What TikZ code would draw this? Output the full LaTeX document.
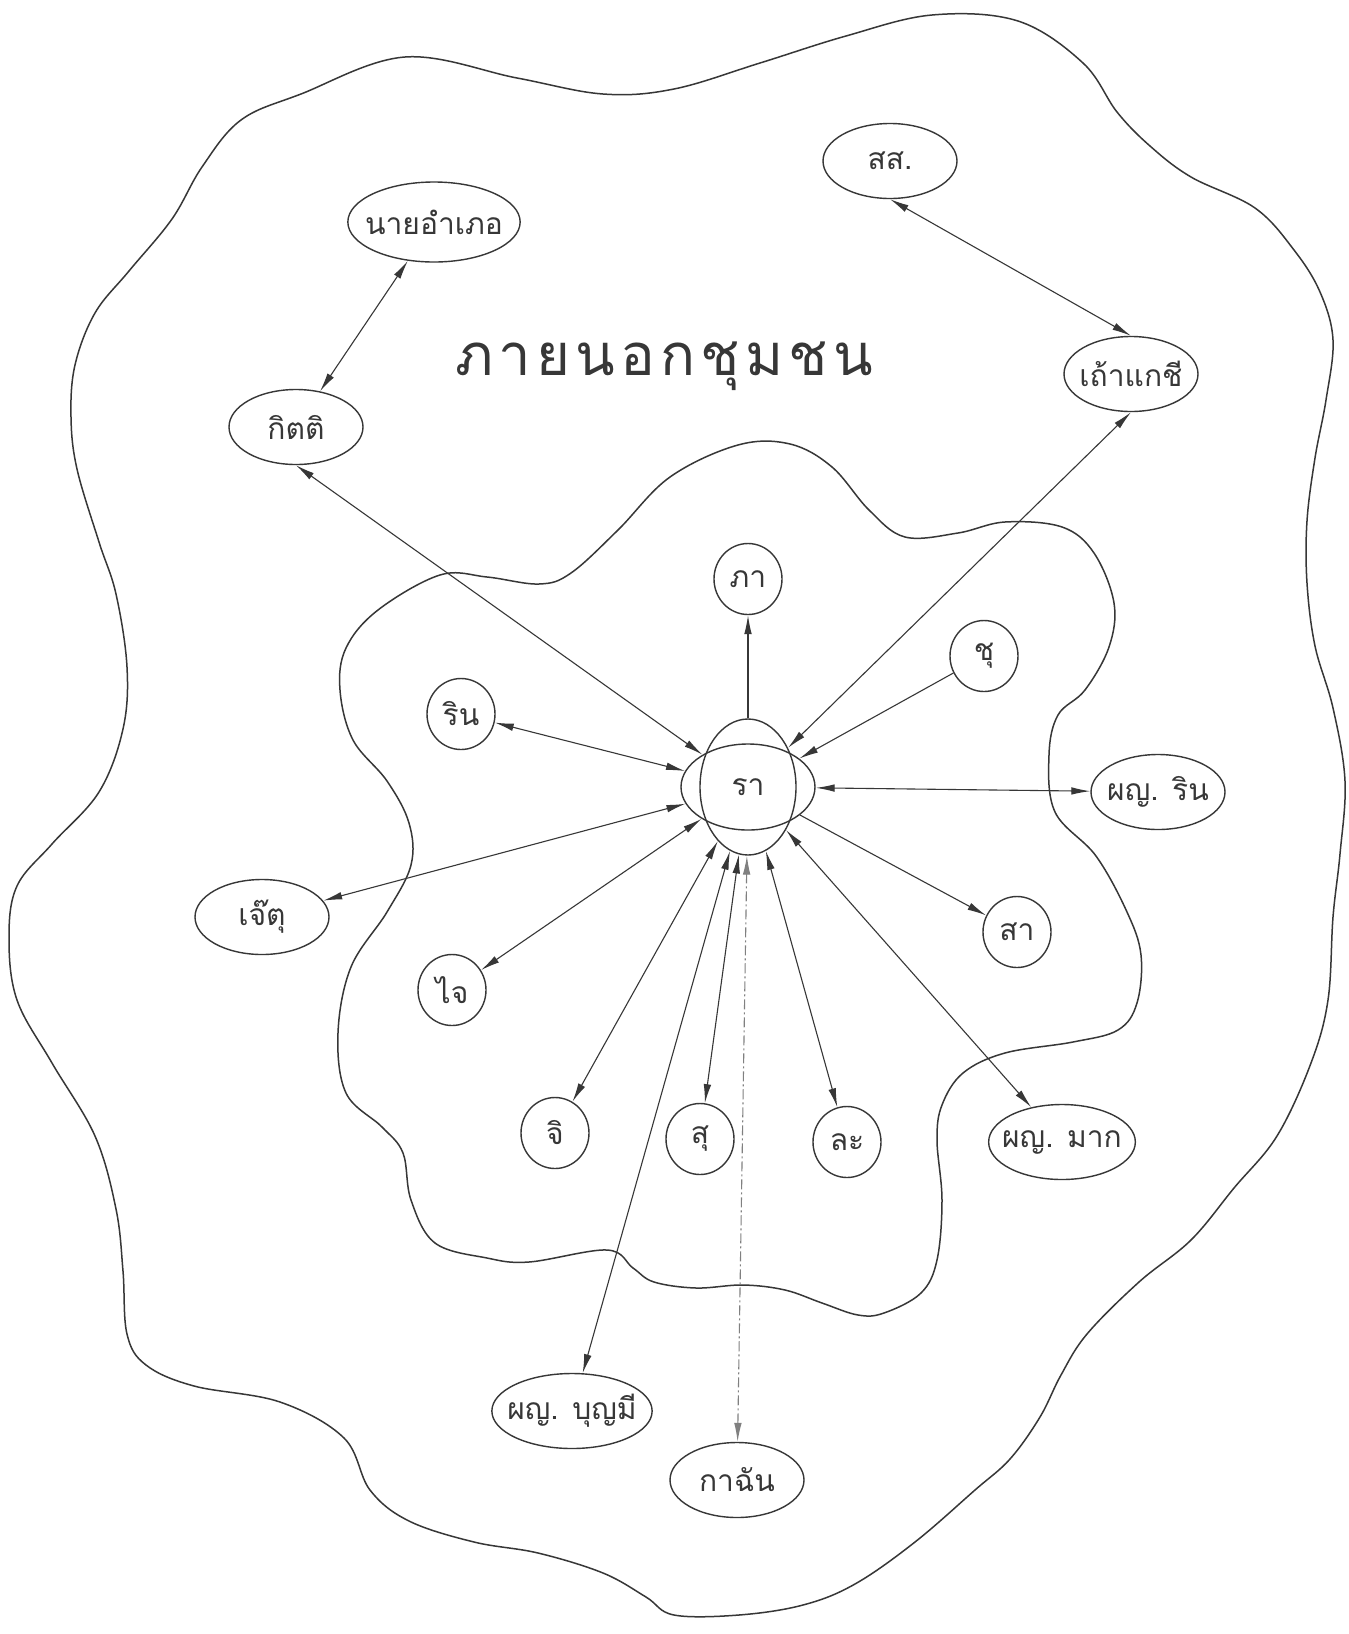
\documentclass[tikz,border=0pt]{standalone}
\usepackage{fontspec}
\newfontfamily\thaifont[Script=Thai]{Loma}
\newfontfamily\thaihand[Script=Thai,LetterSpace=9]{Loma}
\usetikzlibrary{shapes.geometric,arrows.meta}
\definecolor{pencil}{RGB}{55,55,55}

\begin{document}
\begin{tikzpicture}[x=0.5pt, y=-0.5pt, >={Latex[length=9.5pt,width=3.8pt]},
  lnk/.style={pencil, line width=0.55pt},
  blob/.style={pencil, line width=0.75pt},
  oval/.style={draw=pencil, ellipse, line width=0.7pt, inner xsep=-4pt, inner ysep=0pt,
    minimum width=67pt, minimum height=37.5pt, text=pencil, font=\thaifont\fontsize{15}{15}\selectfont},
  ring/.style={oval, minimum width=34pt, minimum height=35.5pt}]
  \fill[white] (0,0) rectangle (1349,1634);
  \useasboundingbox (0,0) rectangle (1349,1634);

  % outside the community
  \draw[blob] plot[smooth cycle, tension=0.6] coordinates {
    (405,57) (517,78) (603,94) (674,89) (760,63) (846,36) (932,15) (1018,21)
    (1083,63) (1117,112) (1150,146) (1191,177) (1255,208) (1294,250) (1320,292)
    (1333,340) (1326,400) (1315,458) (1307,521) (1307,583) (1315,646) (1333,708)
    (1345,781) (1340,854) (1333,917) (1328,1000) (1311,1063) (1277,1136)
    (1234,1188) (1191,1240) (1139,1282) (1087,1334) (1061,1375) (1040,1417)
    (1010,1459) (975,1490) (915,1542) (855,1584) (803,1605) (739,1615) (674,1615)
    (646,1597) (603,1573) (538,1553) (474,1542) (409,1521) (370,1490) (344,1438)
    (280,1402) (194,1386) (146,1365) (127,1334) (123,1271) (116,1209) (95,1136)
    (52,1063) (17,1000) (9,938) (17,886) (52,844) (99,792) (123,729) (127,667)
    (116,594) (99,542) (77,469) (71,417) (75,365) (95,313) (129,271) (172,219)
    (202,167) (241,120) (301,94)};
  % the community
  \draw[blob] plot[smooth cycle, tension=0.6] coordinates {
    (340,690) (346,648) (378,610) (440,575) (487,577) (539,584) (571,573)
    (618,530) (670,477) (738,445) (790,444) (832,467) (869,510) (905,537)
    (958,533) (1005,522) (1062,527) (1094,553) (1114,603) (1109,647) (1085,690)
    (1058,715) (1049,755) (1055,812) (1096,856) (1127,912) (1141,955) (1137,1003)
    (1118,1030) (1073,1042) (1005,1053) (963,1073) (942,1105) (937,1140)
    (942,1200) (937,1260) (921,1293) (884,1313) (858,1315) (822,1303) (785,1290)
    (743,1285) (696,1288) (654,1282) (633,1268) (607,1250) (529,1262) (487,1258)
    (435,1243) (411,1200) (403,1153) (382,1127) (346,1093) (338,1033) (351,967)
    (387,912) (411,865) (409,823) (387,781) (353,740)};

  \node[text=pencil, font=\thaihand\fontsize{29}{29}\selectfont] (outside) at (664,366) {ภายนอกชุมชน};

  \node[oval] (ss) at (890,161) {สส.};
  \node[oval, minimum height=40pt] (amphoe) at (434,222) {นายอำเภอ};
  \node[oval] (kitti) at (296,427) {กิตติ};
  \node[oval] (taokae) at (1131,374) {เถ้าแกชี};
  \node[ring] (pha) at (748,579) {ภา};
  \node[ring] (chu) at (984,656) {ชุ};
  \node[ring] (rin) at (461,714) {ริน};
  \node[oval] (prin) at (1158,792) {ผญ. ริน};
  \node[oval] (jetu) at (262,917) {เจ๊ตุ};
  \node[ring] (sa) at (1017,932) {สา};
  \node[ring] (jai) at (452,990) {ไจ};
  \node[ring] (ji) at (555,1133) {จิ};
  \node[ring] (su) at (700,1139) {สุ};
  \node[ring] (la) at (847,1142) {ละ};
  \node[oval] (pmak) at (1062,1142) {ผญ. มาก};
  \node[oval] (pboon) at (572,1411) {ผญ. บุญมี};
  \node[oval] (kachan) at (737,1480) {กาฉัน};

  \node[oval, minimum width=67pt, minimum height=43pt] (raH) at (748,787) {};
  \node[oval, minimum width=48pt, minimum height=68pt] (raV) at (748,787) {รา};

  \draw[lnk, <->] (amphoe) -- (kitti);
  \draw[lnk, <->] (ss.south) -- (taokae.north);
  \draw[lnk, <->] (kitti.south) -- (raH);
  \draw[lnk, <->] (taokae.south) -- (raV);
  \draw[lnk, ->] (raV) -- (pha);
  \draw[lnk, ->] (chu) -- (raH);
  \draw[lnk, <->] (rin) -- (raH);
  \draw[lnk, <->] (raH) -- (prin);
  \draw[lnk, <->] (jetu) -- (raH);
  \draw[lnk, ->] (raH) -- (sa);
  \draw[lnk, <->] (jai) -- (raH);
  \draw[lnk, <->] (ji) -- (raV);
  \draw[lnk, <->] (su) -- (raV);
  \draw[lnk, <->] (la) -- (raV);
  \draw[lnk, <->] (pmak) -- (raV);
  \draw[lnk, <->] (pboon) -- (raV);
  \draw[lnk, <->, gray, dash pattern=on 5pt off 1.5pt on 1pt off 1.5pt] (kachan) -- (raV);
\end{tikzpicture}
\end{document}
